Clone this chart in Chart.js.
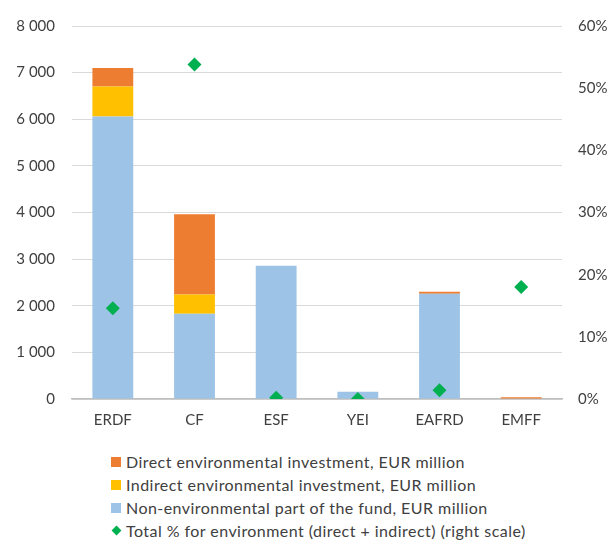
<!DOCTYPE html>
<html>
<head>
<meta charset="utf-8">
<script src="https://cdn.jsdelivr.net/npm/chart.js@4/dist/chart.umd.min.js"></script>
<style>
  body { margin: 0; background: #fff; }
  #wrap { position: relative; width: 612px; height: 541px; }
  #chart { position: absolute; left: 0; top: 0; }
  #legend { position: absolute; left: 111px; top: 450px; font-family: Lato, sans-serif; font-size: 16px; letter-spacing: 0.45px; color: #404040; }
  .item { height: 23px; line-height: 23px; display: flex; align-items: center; white-space: nowrap; }
  .box { width: 10px; height: 10px; margin-right: 5px; flex: none; }
  .dia { width: 7px; height: 7px; margin: 0 6px 0 2px; transform: rotate(45deg); flex: none; }
</style>
</head>
<body>
<div id="wrap">
  <canvas id="chart" width="612" height="440"></canvas>
  <div id="legend"></div>
</div>
<script>
const funds = ['ERDF', 'CF', 'ESF', 'YEI', 'EAFRD', 'EMFF'];
const directEnv = [400, 1720, 0, 0, 40, 40];
const indirectEnv = [640, 410, 0, 0, 0, 0];
const nonEnv = [6060, 1830, 2860, 155, 2260, 0];
const totalPctEnv = [14.6, 53.8, 0.2, 0, 1.4, 18];

const leftTicks = ['0', '1 000', '2 000', '3 000', '4 000', '5 000', '6 000', '7 000', '8 000'];

const colDirect = '#ED7D31';
const colIndirect = '#FFC000';
const colNon = '#9DC3E6';
const colPct = '#00B050';
const textCol = '#404040';
const font = { family: 'Lato, sans-serif', size: 15 };

new Chart(document.getElementById('chart'), {
  data: {
    labels: funds,
    datasets: [
      { type: 'line', label: 'Total % for environment (direct + indirect) (right scale)', data: totalPctEnv,
        yAxisID: 'y1', showLine: false, pointStyle: 'rectRot', pointRadius: 7, pointHoverRadius: 7,
        backgroundColor: colPct, borderColor: colPct, borderWidth: 0, order: 0 },
      { type: 'bar', label: 'Non-environmental part of the fund, EUR million', data: nonEnv,
        backgroundColor: colNon, stack: 's', order: 1 },
      { type: 'bar', label: 'Indirect environmental investment, EUR million', data: indirectEnv,
        backgroundColor: colIndirect, stack: 's', order: 1 },
      { type: 'bar', label: 'Direct environmental investment, EUR million', data: directEnv,
        backgroundColor: colDirect, stack: 's', order: 1 }
    ]
  },
  options: {
    responsive: false,
    animation: false,
    layout: { padding: { top: 16, bottom: 0, left: 0, right: 0 } },
    datasets: { bar: { categoryPercentage: 1, barPercentage: 0.5 } },
    plugins: { legend: { display: false }, tooltip: { enabled: false } },
    scales: {
      x: {
        stacked: true,
        grid: { display: false, drawTicks: false },
        border: { display: true, color: '#bfbfbf', width: 1.5 },
        ticks: { color: textCol, font: font, padding: 12 },
        afterFit: s => { s.height = 41; }
      },
      y: {
        stacked: true,
        position: 'left',
        min: 0, max: 8000,
        grid: { color: '#d9d9d9', drawTicks: false },
        border: { display: false },
        ticks: { stepSize: 1000, color: textCol, font: font, padding: 17,
          callback: (v, i) => leftTicks[i] },
        afterFit: s => { s.width = 72; }
      },
      y1: {
        position: 'right',
        min: 0, max: 60,
        grid: { display: false, drawTicks: false },
        border: { display: false },
        ticks: { stepSize: 10, color: textCol, font: font, padding: 16,
          callback: v => v + '%' },
        afterFit: s => { s.width = 50; }
      }
    }
  }
});

// legend entries, top to bottom
const legendItems = [
  ['Direct environmental investment, EUR million', colDirect, 'box'],
  ['Indirect environmental investment, EUR million', colIndirect, 'box'],
  ['Non-environmental part of the fund, EUR million', colNon, 'box'],
  ['Total % for environment (direct + indirect) (right scale)', colPct, 'dia']
];
const legend = document.getElementById('legend');
legendItems.forEach(([text, color, kind]) => {
  const row = document.createElement('div');
  row.className = 'item';
  const mark = document.createElement('span');
  mark.className = kind;
  mark.style.background = color;
  row.appendChild(mark);
  row.appendChild(document.createTextNode(text));
  legend.appendChild(row);
});
</script>
</body>
</html>
